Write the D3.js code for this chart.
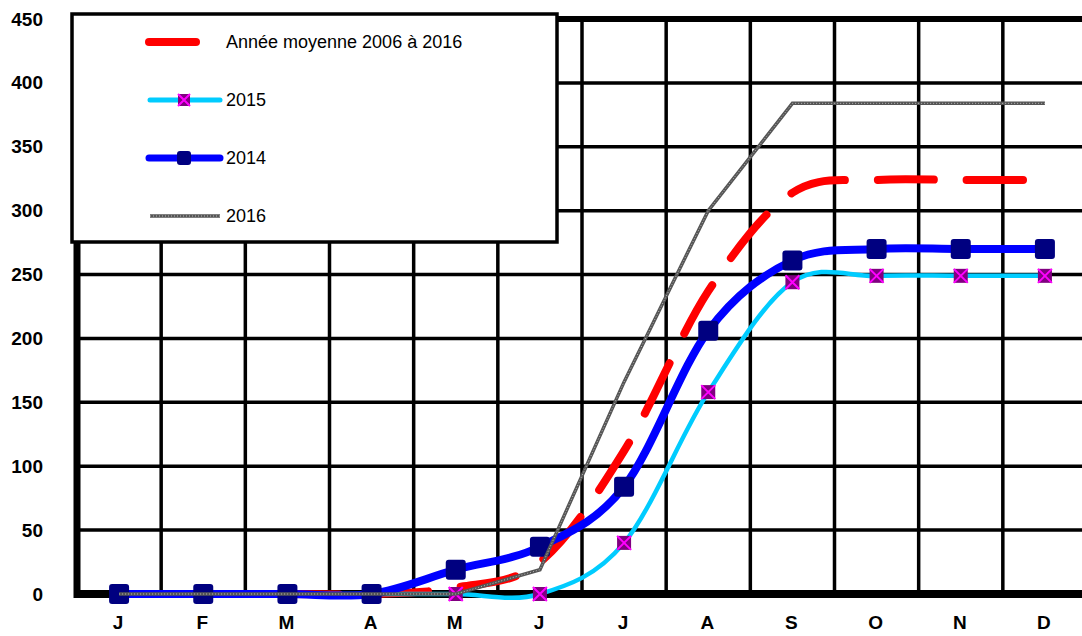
<!DOCTYPE html>
<html><head><meta charset="utf-8">
<script src="https://cdn.jsdelivr.net/npm/d3@7"></script>
<style>
html,body{margin:0;padding:0;background:#fff;}
svg{display:block;}
</style></head>
<body>
<svg id="chart" width="1082" height="636"></svg>
<script>
const months = ["J","F","M","A","M","J","J","A","S","O","N","D"];
const yTicks = [0,50,100,150,200,250,300,350,400,450];
const seriesNames = ["Année moyenne 2006 à 2016","2015","2014","2016"];
const avgValues   = [0,0,0,0,5,25,112,237,314,324,324,324];
const v2015       = [0,0,0,0,0,0,40,158,244,249,249,249];
const v2014       = [0,0,0,0,19,37,84,206,261,270,270,270];
const v2016       = [0,0,0,0,0,19,166,300,384,384,384,384];

(function(){
const svg = d3.select("#chart");
const W = 1082;
const pL = 77, pR = 1087, pT = 19, pB = 594;

const x = d3.scaleBand().domain(d3.range(months.length)).range([pL, pR]).padding(0);
const xc = i => x(i) + x.bandwidth()/2;
const y = d3.scaleLinear().domain([0,450]).range([pB, pT]);

const grid = svg.append("g");
grid.selectAll("line.h").data(yTicks.filter(d => d>0 && d<450)).join("line")
  .attr("x1", pL).attr("x2", W+10).attr("y1", d=>y(d)).attr("y2", d=>y(d))
  .attr("stroke","#000").attr("stroke-width",3.5);
grid.selectAll("line.v").data(d3.range(1, months.length)).join("line")
  .attr("x1", i=>x(i)).attr("x2", i=>x(i)).attr("y1", pT).attr("y2", pB)
  .attr("stroke","#000").attr("stroke-width",3.5);
grid.append("line").attr("x1",pL).attr("x2",W+10).attr("y1",pT).attr("y2",pT).attr("stroke","#000").attr("stroke-width",6);
grid.append("line").attr("x1",pL).attr("x2",W+10).attr("y1",pB).attr("y2",pB).attr("stroke","#000").attr("stroke-width",8);
grid.append("line").attr("x1",pL).attr("x2",pL).attr("y1",pT-3).attr("y2",pB+4).attr("stroke","#000").attr("stroke-width",7);

const yAxis = d3.axisLeft(y).tickValues(yTicks).tickSize(0).tickPadding(34);
const ya = svg.append("g").attr("transform",`translate(${pL},0)`).call(yAxis);
ya.select(".domain").remove();
ya.selectAll("text").attr("font-family","Liberation Sans, Arial, sans-serif")
  .attr("font-weight","bold").attr("font-size",19).attr("fill","#000");

const xAxis = d3.axisBottom(x).tickFormat(i => months[i]).tickSize(0).tickPadding(22);
const xa = svg.append("g").attr("transform",`translate(-1,${pB})`).call(xAxis);
xa.select(".domain").remove();
xa.selectAll("text").attr("font-family","Liberation Sans, Arial, sans-serif")
  .attr("font-weight","bold").attr("font-size",19).attr("fill","#000");

const smooth = d3.line().x((d,i)=>xc(i)).y(d=>y(d)).curve(d3.curveCatmullRom.alpha(0));
const straight = d3.line().x((d,i)=>xc(i)).y(d=>y(d));

svg.append("path").datum(avgValues).attr("d", smooth)
  .attr("fill","none").attr("stroke","#ff0000").attr("stroke-width",8)
  .attr("stroke-linecap","round").attr("stroke-dasharray","56,33").attr("stroke-dashoffset",14);

// 2015 cyan (drawn below 2014)
svg.append("path").datum(v2015).attr("d", smooth)
  .attr("fill","none").attr("stroke","#00ccff").attr("stroke-width",4.5).attr("stroke-linecap","round");
const m15 = svg.append("g").selectAll("g").data(v2015).join("g")
  .attr("transform",(d,i)=>`translate(${xc(i)},${y(d)})`);
m15.append("rect").attr("x",-7).attr("y",-7).attr("width",14).attr("height",14).attr("fill","#800080");
m15.append("path").attr("d","M-7,-7L7,7M-7,7L7,-7").attr("stroke","#ff00ff").attr("stroke-width",2);

// 2014 blue
svg.append("path").datum(v2014).attr("d", smooth)
  .attr("fill","none").attr("stroke","#0000ff").attr("stroke-width",8).attr("stroke-linecap","round");
svg.append("g").selectAll("rect").data(v2014).join("rect")
  .attr("x",(d,i)=>xc(i)-10).attr("y",d=>y(d)-10).attr("width",20).attr("height",20)
  .attr("rx",3).attr("fill","#000080");

// 2016 gray
svg.append("path").datum(v2016).attr("d", straight)
  .attr("fill","none").attr("stroke","#555").attr("stroke-width",3.5);
svg.append("path").datum(v2016).attr("d", straight)
  .attr("fill","none").attr("stroke","#bbb").attr("stroke-width",1).attr("stroke-dasharray","1,2");

const lg = svg.append("g");
lg.append("rect").attr("x",72).attr("y",14).attr("width",485).attr("height",228)
  .attr("fill","#fff").attr("stroke","#000").attr("stroke-width",3.5);
const legY = [42,100,158,216];
const font = "Liberation Sans, Arial, sans-serif";
lg.append("line").attr("x1",149).attr("x2",196).attr("y1",legY[0]).attr("y2",legY[0])
  .attr("stroke","#ff0000").attr("stroke-width",8).attr("stroke-linecap","round");
lg.append("text").attr("x",226).attr("y",legY[0]+6).text(seriesNames[0]);
lg.append("line").attr("x1",150).attr("x2",220).attr("y1",legY[1]).attr("y2",legY[1])
  .attr("stroke","#00ccff").attr("stroke-width",5).attr("stroke-linecap","round");
const lm = lg.append("g").attr("transform",`translate(184,${legY[1]})`);
lm.append("rect").attr("x",-6).attr("y",-6).attr("width",12).attr("height",12).attr("fill","#800080");
lm.append("path").attr("d","M-6,-6L6,6M-6,6L6,-6").attr("stroke","#ff00ff").attr("stroke-width",2);
lg.append("text").attr("x",226).attr("y",legY[1]+6).text(seriesNames[1]);
lg.append("line").attr("x1",149).attr("x2",220).attr("y1",legY[2]).attr("y2",legY[2])
  .attr("stroke","#0000ff").attr("stroke-width",7).attr("stroke-linecap","round");
lg.append("rect").attr("x",177).attr("y",legY[2]-7).attr("width",14).attr("height",14).attr("rx",3).attr("fill","#000080");
lg.append("text").attr("x",226).attr("y",legY[2]+6).text(seriesNames[2]);
lg.append("line").attr("x1",150).attr("x2",220).attr("y1",legY[3]).attr("y2",legY[3])
  .attr("stroke","#555").attr("stroke-width",3.5);
lg.append("line").attr("x1",150).attr("x2",220).attr("y1",legY[3]).attr("y2",legY[3])
  .attr("stroke","#bbb").attr("stroke-width",1).attr("stroke-dasharray","1,2");
lg.append("text").attr("x",226).attr("y",legY[3]+6).text(seriesNames[3]);
lg.selectAll("text").attr("font-family",font).attr("font-size",18).attr("fill","#000");
})();
</script>
</body></html>
